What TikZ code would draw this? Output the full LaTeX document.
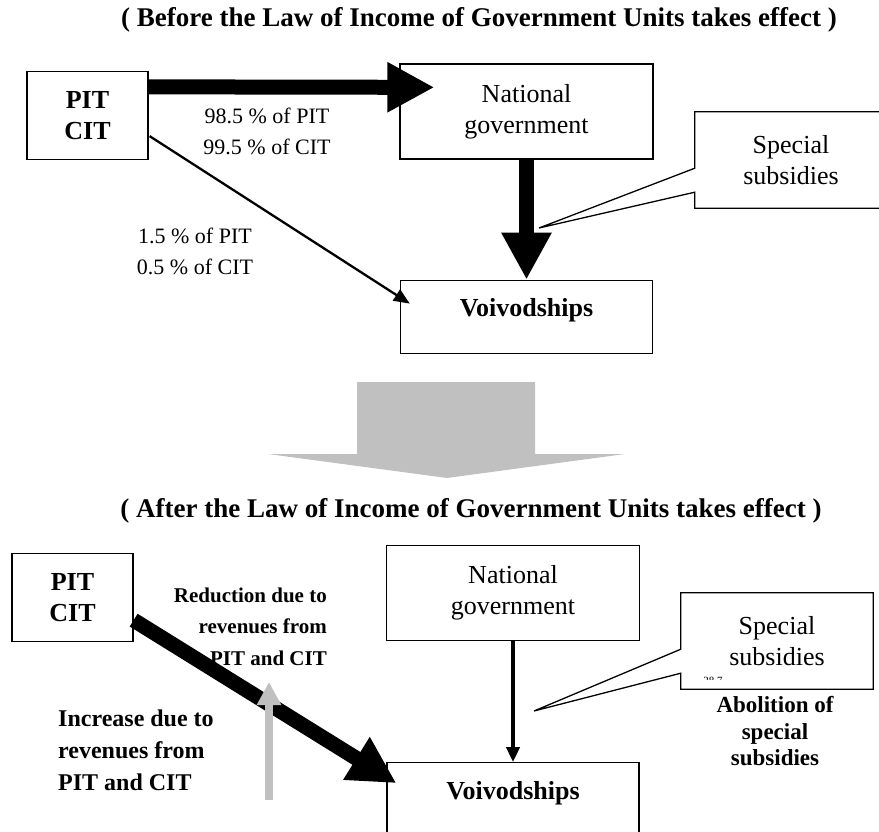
\documentclass[tikz,border=0pt]{standalone}
\usepackage{fontspec}
\setmainfont{Liberation Serif}
\usetikzlibrary{arrows.meta,positioning,calc}
\definecolor{Shade}{HTML}{C0C0C0}

\begin{document}
\begin{tikzpicture}[x=1pt, y=-1pt,
  box/.style={draw, line width=1.3pt, align=center, inner sep=0pt},
  taxbox/.style={box, minimum width=121pt, minimum height=88pt,
                 font=\fontsize{26}{31}\selectfont\bfseries},
  govbox/.style={box, minimum width=253pt, minimum height=95pt,
                 font=\fontsize{26}{31}\selectfont},
  voibox/.style={box, minimum width=252pt, minimum height=73pt, text depth=18pt,
                 font=\fontsize{26}{31}\selectfont\bfseries},
  subbox/.style={minimum width=192pt, minimum height=96pt, align=center, inner sep=0pt,
                 font=\fontsize{26}{31}\selectfont},
  heading/.style={font=\fontsize{27}{32}\selectfont\bfseries, inner sep=0pt, anchor=base},
  note/.style={font=\fontsize{22}{31}\selectfont, align=center, inner sep=0pt},
  fat/.style={line width=15pt, -{Triangle[length=47pt,width=47pt]}},
  slim/.style={line width=2.3pt, -{Triangle[length=16pt,width=13pt]}},
  callout/.style={line width=1.3pt, line join=miter},
  node distance=120pt
]
  \useasboundingbox (0,0) rectangle (879,832);
  \clip (0,0) rectangle (879,832);

  % before
  \node[heading] (before) at (479,27) {( Before the Law of Income of Government Units takes effect )};
  \node[taxbox] (pit1) at (87.5,115.5) {PIT\\CIT};
  \node[govbox] (ng1) at (526.5,111.5) {National\\government};
  \node[voibox, below=of ng1] (v1) {Voivodships};
  \node[subbox] (spec1) at (791,160) {Special\\subsidies};
  \coordinate (tip1) at (539,228);
  \node[note] (share1) at (267,131.5) {98.5 \% of PIT\\99.5 \% of CIT};
  \node[note] (share2) at (195,251) {1.5 \% of PIT\\0.5 \% of CIT};

  \draw[fat] ($(pit1.north east)+(0,16)$) -- ($(ng1.north west)+(35,24)$);
  \draw[fat] (ng1.south) -- (v1.north);
  \draw[slim] ($(pit1.south east)+(1,-24)$) -- ($(v1.north west)+(10,24)$);
  \draw[callout] (spec1.south west) -- ++(0,-16) -- (tip1) -- ($(spec1.south west)+(0,-40)$)
    -- (spec1.north west) -- (spec1.north east) -- (spec1.south east) -- cycle;

  % big grey arrow
  \fill[Shade] (357,382) -- (535,382) -- (535,454) -- (625,454) -- (447,478)
    -- (268,454) -- (357,454) -- cycle;

  % after
  \node[heading] (after) at (471,517) {( After the Law of Income of Government Units takes effect )};
  \node[taxbox] (pit2) at (72.5,597.5) {PIT\\CIT};
  \node[govbox] (ng2) at (513,593) {National\\government};
  \node[voibox, below=121pt of ng2] (v2) {Voivodships};
  \node[subbox] (spec2) at (777,641) {Special\\subsidies};
  \coordinate (tip2) at (534,711);
  \begin{scope}
    \clip (690,664) rectangle (740,679);
    \node[font=\fontsize{11}{11}\selectfont, inner sep=0pt] (frag) at (713,681) {28.7};
  \end{scope}
  \node[font=\fontsize{21}{31.5}\selectfont\bfseries, align=right, anchor=east, inner sep=0pt]
    (cut) at (327,626.5) {Reduction due to\\revenues from\\PIT and CIT};
  \node[font=\fontsize{24}{32}\selectfont\bfseries, align=left, anchor=west, inner sep=0pt]
    (rise) at (58,750) {Increase due to\\revenues from\\PIT and CIT};
  \node[font=\fontsize{23}{26.5}\selectfont\bfseries, align=center, inner sep=0pt]
    (abol) at (775,731.5) {Abolition of\\special\\subsidies};

  \draw[fat] ($(pit2.south east)+(0,-22)$) -- ($(v2.north west)+(10,21)$);
  \draw[line width=4pt, -{Triangle[length=15pt,width=13pt]}] (ng2.south) -- (v2.north);
  \draw[callout] (spec2.south west) -- ++(0,-16) -- (tip2) -- ($(spec2.south west)+(0,-40)$)
    -- (spec2.north west) -- (spec2.north east) -- (spec2.south east) -- cycle;
  \coordinate (g0) at (269,800);
  \coordinate (g1) at (269,682);
  \draw[Shade, line width=8pt, -{Triangle[length=23pt,width=23pt]}] (g0) -- (g1);
\end{tikzpicture}
\end{document}
